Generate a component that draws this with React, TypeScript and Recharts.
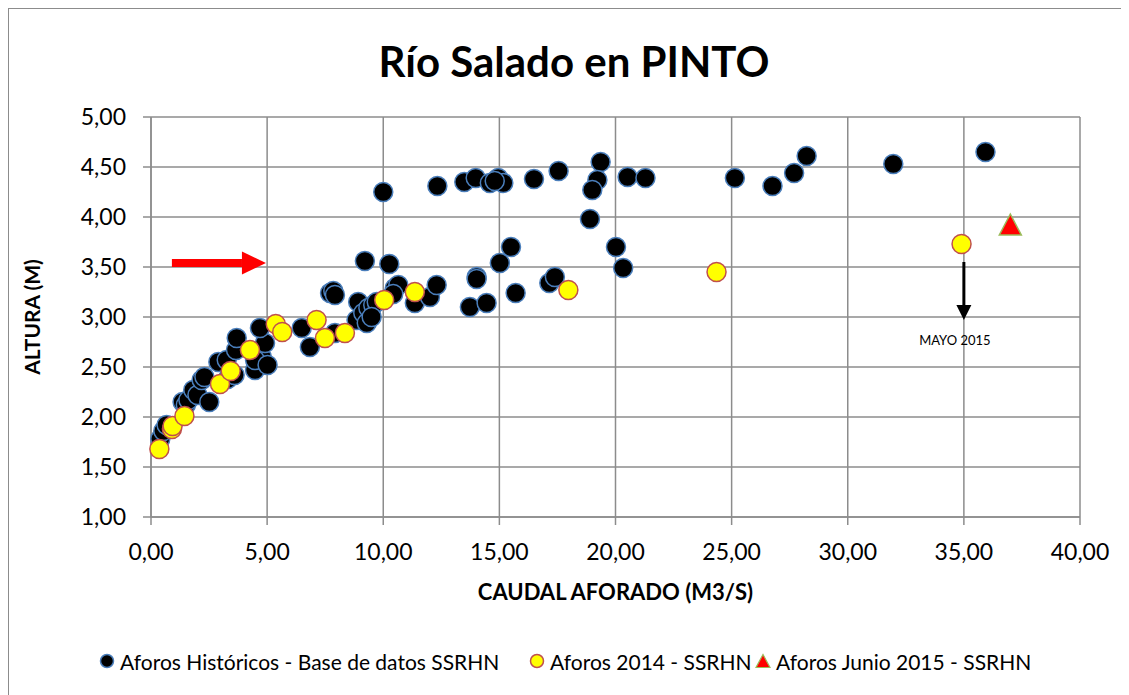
import React from 'react';
import {
  ScatterChart,
  Scatter,
  XAxis,
  YAxis,
  CartesianGrid,
  ReferenceLine,
  Label
} from 'recharts';

// Aforos históricos (caudal m3/s, altura m)
const historicosQ = [
  0.40, 0.53, 0.67, 1.36, 1.50, 1.61, 1.82, 2.00, 2.18, 2.30, 2.51, 2.90, 3.26, 3.30, 3.60,
  3.66, 3.69, 4.48, 4.77, 4.48, 5.02, 4.91, 4.69, 6.49, 6.84, 7.71, 7.85, 7.92, 7.92, 8.92,
  8.85, 9.14, 9.36, 9.57, 9.72, 9.29, 9.50, 9.21, 10.26, 10.50, 10.65, 10.43, 11.36, 12.01,
  12.30, 13.73, 14.02, 14.02, 14.45, 15.02, 15.50, 15.70, 17.15, 17.39, 18.90, 20.02, 20.33,
  10.00, 12.33, 13.49, 13.98, 14.59, 14.95, 15.17, 14.80, 16.49, 17.55, 19.36, 19.22, 19.00,
  20.52, 21.29, 25.14, 26.76, 27.69, 28.23, 31.96, 35.93
];
const historicosH = [
  1.78, 1.86, 1.92, 2.15, 2.12, 2.17, 2.27, 2.22, 2.37, 2.40, 2.15, 2.55, 2.57, 2.38, 2.42,
  2.67, 2.79, 2.47, 2.60, 2.57, 2.52, 2.74, 2.89, 2.89, 2.70, 3.24, 3.26, 3.22, 2.84, 3.15,
  2.97, 3.04, 3.09, 3.12, 3.15, 2.94, 3.00, 3.56, 3.53, 3.29, 3.32, 3.23, 3.14, 3.20,
  3.32, 3.10, 3.40, 3.38, 3.14, 3.54, 3.70, 3.24, 3.34, 3.40, 3.98, 3.70, 3.49,
  4.25, 4.31, 4.35, 4.39, 4.34, 4.39, 4.34, 4.36, 4.38, 4.46, 4.55, 4.37, 4.27,
  4.40, 4.39, 4.39, 4.31, 4.44, 4.61, 4.53, 4.65
];

// Aforos 2014
const aforos2014Q = [
  0.36, 0.90, 0.93, 1.44, 2.97, 3.43, 4.26, 5.37, 5.65, 7.13, 7.49, 8.35, 10.04, 11.36,
  17.97, 24.35, 34.90
];
const aforos2014H = [
  1.68, 1.88, 1.91, 2.01, 2.33, 2.46, 2.67, 2.93, 2.85, 2.97, 2.79, 2.84, 3.17, 3.25,
  3.27, 3.45, 3.73
];

// Aforos junio 2015
const junio2015Q = [37.0];
const junio2015H = [3.91];

const xTicks = [0, 5, 10, 15, 20, 25, 30, 35, 40];
const yTicks = [1, 1.5, 2, 2.5, 3, 3.5, 4, 4.5, 5];

const toPoints = (q: number[], h: number[]) => q.map((x, i) => ({ x, y: h[i] }));

const historicos = toPoints(historicosQ, historicosH);
const aforos2014 = toPoints(aforos2014Q, aforos2014H);
const junio2015 = toPoints(junio2015Q, junio2015H);

const fmt = (v: number) => v.toFixed(2).replace('.', ',');

const FONT = 'Lato, "Open Sans", sans-serif';
const GRID = '#8c8c8c';

const BlackDot = (props: any) => (
  <circle cx={props.cx} cy={props.cy} r={9.5} fill="#000" stroke="#4a7ebb" strokeWidth={1.5} />
);

const YellowDot = (props: any) => (
  <circle cx={props.cx} cy={props.cy} r={9.5} fill="#ffff00" stroke="#c0504d" strokeWidth={1.5} />
);

const Triangle = (props: any) => {
  const { cx, cy } = props;
  return (
    <polygon
      points={`${cx},${cy - 12} ${cx + 11},${cy + 9} ${cx - 11},${cy + 9}`}
      fill="#ff0000"
      stroke="#9bbb59"
      strokeWidth={1.5}
    />
  );
};

// flecha roja horizontal
const RedArrow = (props: any) => {
  const { x1, y1, x2 } = props;
  const head = 24;
  return (
    <g>
      <rect x={x1} y={y1 - 4} width={x2 - x1 - head} height={8} fill="#ff0000" />
      <polygon
        points={`${x2 - head},${y1 - 11.5} ${x2},${y1} ${x2 - head},${y1 + 11.5}`}
        fill="#ff0000"
      />
    </g>
  );
};

// flecha negra vertical con texto
const BlackArrow = (props: any) => {
  const { x1, y1, y2 } = props;
  return (
    <g>
      <line x1={x1} y1={y1} x2={x1} y2={y2 - 14} stroke="#000" strokeWidth={3} />
      <polygon points={`${x1 - 7.5},${y2 - 15} ${x1 + 7.5},${y2 - 15} ${x1},${y2}`} fill="#000" />
      <text x={x1 - 9} y={y2 + 25} textAnchor="middle" fontSize={13} fontFamily={FONT} fill="#000">
        MAYO 2015
      </text>
    </g>
  );
};

const legendItems = [
  { label: 'Aforos Históricos - Base de datos SSRHN', left: 90, kind: 'black' },
  { label: 'Aforos 2014 - SSRHN', left: 520, kind: 'yellow' },
  { label: 'Aforos Junio 2015 - SSRHN', left: 746, kind: 'tri' }
];

export default function App() {
  return (
    <div
      style={{
        position: 'relative',
        width: 1122,
        height: 690,
        border: '1px solid #8c8c8c',
        background: '#fff',
        fontFamily: FONT
      }}
    >
      <div
        style={{
          position: 'absolute',
          top: 30,
          left: 0,
          width: 1130,
          textAlign: 'center',
          fontSize: 42,
          fontWeight: 700,
          lineHeight: '44px'
        }}
      >
        Río Salado en PINTO
      </div>
      <ScatterChart width={1122} height={690} margin={{ top: 108, right: 51, bottom: 99, left: 0 }}>
        <CartesianGrid stroke={GRID} strokeWidth={1.5} />
        <XAxis
          type="number"
          dataKey="x"
          domain={[0, 40]}
          ticks={xTicks}
          tickFormatter={fmt}
          height={83}
          tickSize={8}
          tickMargin={19}
          stroke={GRID}
          strokeWidth={1.5}
          tick={{ fill: '#000', fontSize: 23, fontFamily: FONT }}
        >
          <Label
            value="CAUDAL AFORADO (M3/S)"
            position="insideBottom"
            offset={0}
            style={{ fontSize: 22, fontWeight: 700, fill: '#000', fontFamily: FONT }}
          />
        </XAxis>
        <YAxis
          type="number"
          dataKey="y"
          domain={[1, 5]}
          ticks={yTicks}
          tickFormatter={fmt}
          width={142}
          tickSize={8}
          tickMargin={17}
          stroke={GRID}
          strokeWidth={1.5}
          tick={{ fill: '#000', fontSize: 23, fontFamily: FONT }}
        >
          <Label
            value="ALTURA (M)"
            angle={-90}
            position="insideLeft"
            offset={24}
            style={{ fontSize: 21, fontWeight: 700, fill: '#000', fontFamily: FONT, textAnchor: 'middle' }}
          />
        </YAxis>
        <Scatter name="Aforos Históricos - Base de datos SSRHN" data={historicos} shape={BlackDot} isAnimationActive={false} />
        <Scatter name="Aforos 2014 - SSRHN" data={aforos2014} shape={YellowDot} isAnimationActive={false} />
        <Scatter name="Aforos Junio 2015 - SSRHN" data={junio2015} shape={Triangle} isAnimationActive={false} />
        <ReferenceLine
          segment={[{ x: 0.9, y: 3.54 }, { x: 4.95, y: 3.54 }]}
          shape={RedArrow}
        />
        <ReferenceLine
          segment={[{ x: 35.0, y: 3.55 }, { x: 35.0, y: 2.97 }]}
          shape={BlackArrow}
        />
      </ScatterChart>
      <div style={{ position: 'absolute', top: 634, left: 0, width: 1122, height: 36 }}>
        {legendItems.map(item => (
          <div
            key={item.label}
            style={{
              position: 'absolute',
              left: item.left,
              top: 0,
              height: 36,
              display: 'flex',
              alignItems: 'center',
              fontSize: 21,
              whiteSpace: 'nowrap'
            }}
          >
            <svg width={16} height={16} style={{ marginRight: 5 }}>
              {item.kind === 'black' && <circle cx={8} cy={8} r={6.5} fill="#000" stroke="#4a7ebb" strokeWidth={1.5} />}
              {item.kind === 'yellow' && <circle cx={8} cy={8} r={6.5} fill="#ffff00" stroke="#c0504d" strokeWidth={1.5} />}
              {item.kind === 'tri' && (
                <polygon points="8,1.5 15,14.5 1,14.5" fill="#ff0000" stroke="#9bbb59" strokeWidth={1.2} />
              )}
            </svg>
            {item.label}
          </div>
        ))}
      </div>
    </div>
  );
}
